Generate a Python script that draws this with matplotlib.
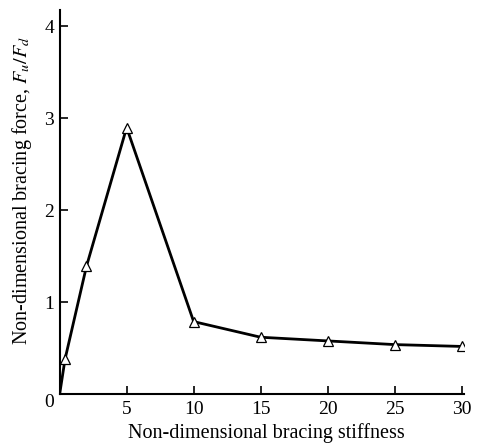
import numpy as np
import matplotlib.pyplot as plt

# Data
stiffness = [0.0, 0.4, 2.0, 5.0, 10.0, 15.0, 20.0, 25.0, 30.0]
force = [0.0, 0.38, 1.39, 2.9, 0.79, 0.62, 0.58, 0.54, 0.52]
marked = [False, True, True, True, True, True, True, True, True]

x_ticks = [5, 10, 15, 20, 25, 30]
y_ticks = [0, 1, 2, 3, 4]

plt.rcParams['font.family'] = ['Liberation Serif', 'DejaVu Serif']
plt.rcParams['mathtext.fontset'] = 'stix'

fig = plt.figure(figsize=(4.81, 4.47), dpi=100)
ax = fig.add_axes([0.124, 0.118, 0.840, 0.860])

ax.plot(stiffness, force, color='black', linewidth=2.0)
mx = [s for s, m in zip(stiffness, marked) if m]
my = [f for f, m in zip(force, marked) if m]
ax.plot(mx, my, linestyle='none', marker='^', markersize=7.5,
        markerfacecolor='white', markeredgecolor='black', markeredgewidth=0.9)

ax.set_xlim(0, 30.15)
ax.set_ylim(0, 4.18)
ax.set_xticks(x_ticks)
ax.set_yticks(y_ticks)
ax.tick_params(direction='in', length=6, width=1.2, labelsize=14)
ax.tick_params(axis='x', pad=5)
ax.tick_params(axis='y', pad=4)
ax.get_yticklabels()[0].set_va('top')

for side in ['top', 'right']:
    ax.spines[side].set_visible(False)
for side in ['left', 'bottom']:
    ax.spines[side].set_linewidth(1.5)

ax.set_xlabel('Non-dimensional bracing stiffness', fontsize=14.5, labelpad=6)
ax.set_ylabel('Non-dimensional bracing force, $F_u/F_d$', fontsize=14.5)
ax.xaxis.set_label_coords(0.512, -0.075)
ax.yaxis.set_label_coords(-0.063, 0.53)

fig.savefig('out.png', dpi=100)
